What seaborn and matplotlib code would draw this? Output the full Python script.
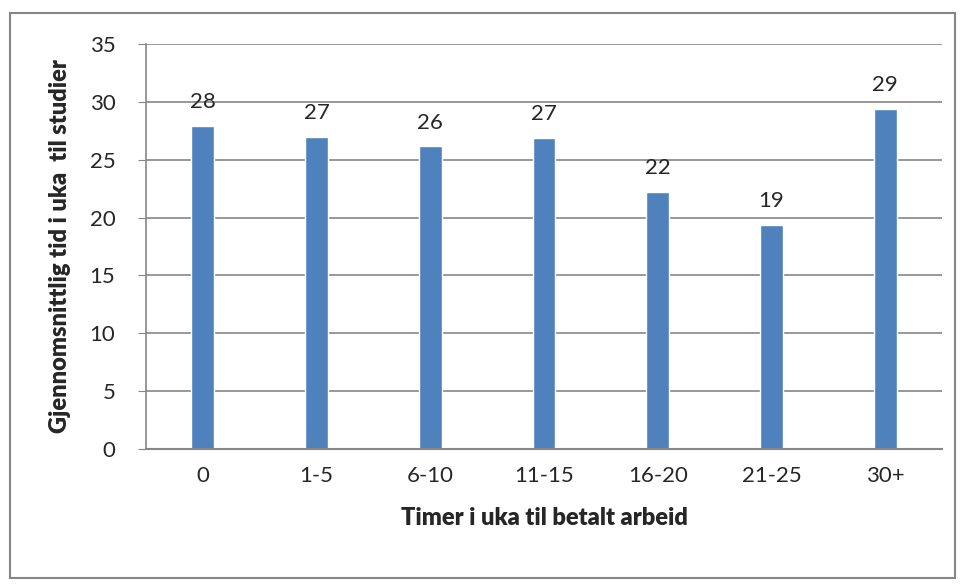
import matplotlib
matplotlib.use("Agg")
import pandas as pd
import seaborn as sns
from matplotlib import pyplot as plt
from matplotlib.patches import Rectangle

categories = ["0", "1-5", "6-10", "11-15", "16-20", "21-25", "30+"]
values = [27.95, 27.0, 26.15, 26.9, 22.25, 19.35, 29.35]
labels = ["28", "27", "26", "27", "22", "19", "29"]

df = pd.DataFrame({"timer": categories, "tid": values})

sns.set_style("white")
plt.rcParams["font.family"] = ["Lato", "DejaVu Sans"]

fig = plt.figure(figsize=(9.6, 5.84), dpi=100)
ax = fig.add_axes([146 / 960, 1 - 449 / 584, (942 - 146) / 960, (449 - 44) / 584])

sns.barplot(x="timer", y="tid", data=df, order=categories, color="#4F81BD",
            saturation=1, width=0.2, ax=ax)

# value labels above the bars
for i, (v, lab) in enumerate(zip(values, labels)):
    ax.text(i, v + 1.2, lab, ha="center", va="bottom", fontsize=16)

ax.set_ylim(0, 35)
ax.set_yticks(range(0, 36, 5))
ax.set_xlim(-0.5, len(categories) - 0.5)
ax.grid(axis="y", color="#868686", linewidth=1.2)
ax.set_axisbelow(True)
for s in ["top", "right"]:
    ax.spines[s].set_visible(False)
ax.spines["left"].set_color("#868686")
ax.spines["bottom"].set_color("#868686")
ax.spines["left"].set_linewidth(1.2)
ax.spines["bottom"].set_linewidth(1.5)
ax.tick_params(axis="y", left=True, length=6, color="#868686", labelsize=16, pad=16)
ax.tick_params(axis="x", bottom=False, labelsize=16, pad=9)

ax.set_xlabel("Timer i uka til betalt arbeid", fontsize=17, fontweight="heavy")
ax.set_ylabel("Gjennomsnittlig tid i uka  til studier", fontsize=17, fontweight="heavy")
ax.xaxis.set_label_coords(0.5, -0.142)
ax.yaxis.set_label_coords(-0.094, 0.5)

fig.patches.append(Rectangle((10 / 960, 6 / 584), 945 / 960, 565 / 584, transform=fig.transFigure,
                             fill=False, edgecolor="#868686", linewidth=1.5))

fig.savefig("out.png", dpi=100)
